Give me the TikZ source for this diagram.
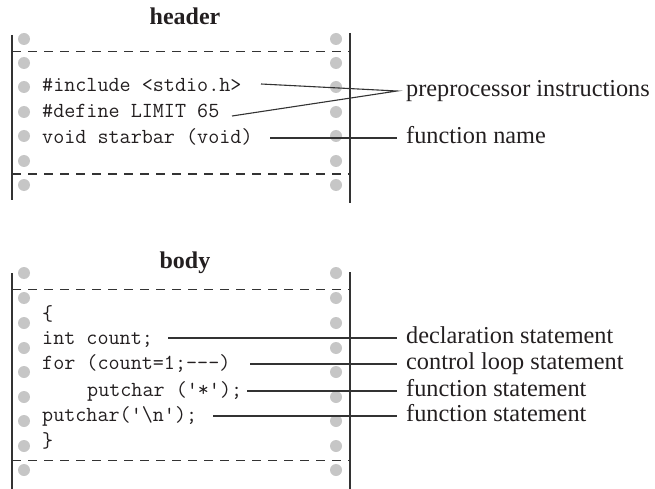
\documentclass[tikz,border=0pt]{standalone}
\usepackage{fontspec}
\setmainfont{Liberation Serif}
\definecolor{ink}{HTML}{231F20}
\definecolor{dotc}{HTML}{C6C6C6}
\definecolor{linec}{HTML}{333333}
\begin{document}
\begin{tikzpicture}[x=1pt,y=-1pt,
  code/.style={inner sep=0pt,anchor=base west,text=ink,font=\fontsize{21.5}{21.5}\ttfamily},
  lbl/.style={inner sep=0pt,anchor=west,text=ink,text height=16pt,text depth=5pt,font=\fontsize{24.3}{24.3}\selectfont},
  ttl/.style={inner sep=0pt,anchor=base,text=ink,font=\fontsize{24}{24}\selectfont\bfseries},
  frame/.style={draw=linec,line width=1.2pt},
  sep/.style={draw=linec,line width=1pt,dash pattern=on 9pt off 7pt},
  conn/.style={draw=linec,line width=1.1pt},
  hole/.style={fill=dotc}]
\useasboundingbox (0,0) rectangle (655,489);
% ---------- header ----------
\node[ttl] (th) at (185,25) {header};
\foreach \y in {39,63,87,112,136,161,185}{
  \fill[hole] (24,\y) circle (6pt);
  \fill[hole] (336,\y) circle (6pt);
}
\draw[frame] (12,35) -- (12,200);
\draw[frame] (350,33) -- (350,203);
\draw[sep] (12,52) -- (350,52);
\draw[sep] (12,174) -- (350,174);
\node[code] (inc) at (42,92) {\#include <stdio.h>};
\node[code] (def) at (42,118) {\#define LIMIT 65};
\node[code] (fn) at (42,144) {void starbar (void)};
\node[lbl] (pre) at (406,91) {preprocessor instructions};
\node[lbl] (fnl) at (406,138) {function name};
\coordinate (incS) at (261,84);
\coordinate (defS) at (232,116);
\coordinate (fnS) at (270,138);
\draw[conn] (incS) -- ([xshift=-9pt]pre.west) -- (defS);
\draw[conn] (fnS) -- ([xshift=-9pt]fnl.west);
% ---------- body ----------
\node[ttl] (tb) at (185,268) {body};
\foreach \y in {273,298,323,348,372,397,421,446,470}{
  \fill[hole] (24,\y) circle (6pt);
  \fill[hole] (336,\y) circle (6pt);
}
\draw[frame] (12,273) -- (12,489);
\draw[frame] (350,272) -- (350,489);
\draw[sep] (12,289) -- (350,289);
\draw[sep] (12,460) -- (350,460);
\node[code] (ob) at (42,320) {\{};
\node[code] (ic) at (42,344) {int count;};
\node[code] (fl) at (42,369) {for (count=1;---)};
\node[code] (p1) at (87,396) {putchar ('*');};
\node[code] (p2) at (42,421) {putchar('\textbackslash n');};
\node[code] (cb) at (42,447) {\}};
\node[lbl] (l1) at (406,338) {declaration statement};
\node[lbl] (l2) at (406,364) {control loop statement};
\node[lbl] (l3) at (406,391) {function statement};
\node[lbl] (l4) at (406,416) {function statement};
\coordinate (s1) at (168,338);
\coordinate (s2) at (250,364);
\coordinate (s3) at (247,391);
\coordinate (s4) at (213,416);
\draw[conn] (s1) -- ([xshift=-9pt]l1.west);
\draw[conn] (s2) -- ([xshift=-9pt]l2.west);
\draw[conn] (s3) -- ([xshift=-9pt]l3.west);
\draw[conn] (s4) -- ([xshift=-9pt]l4.west);
\end{tikzpicture}
\end{document}
